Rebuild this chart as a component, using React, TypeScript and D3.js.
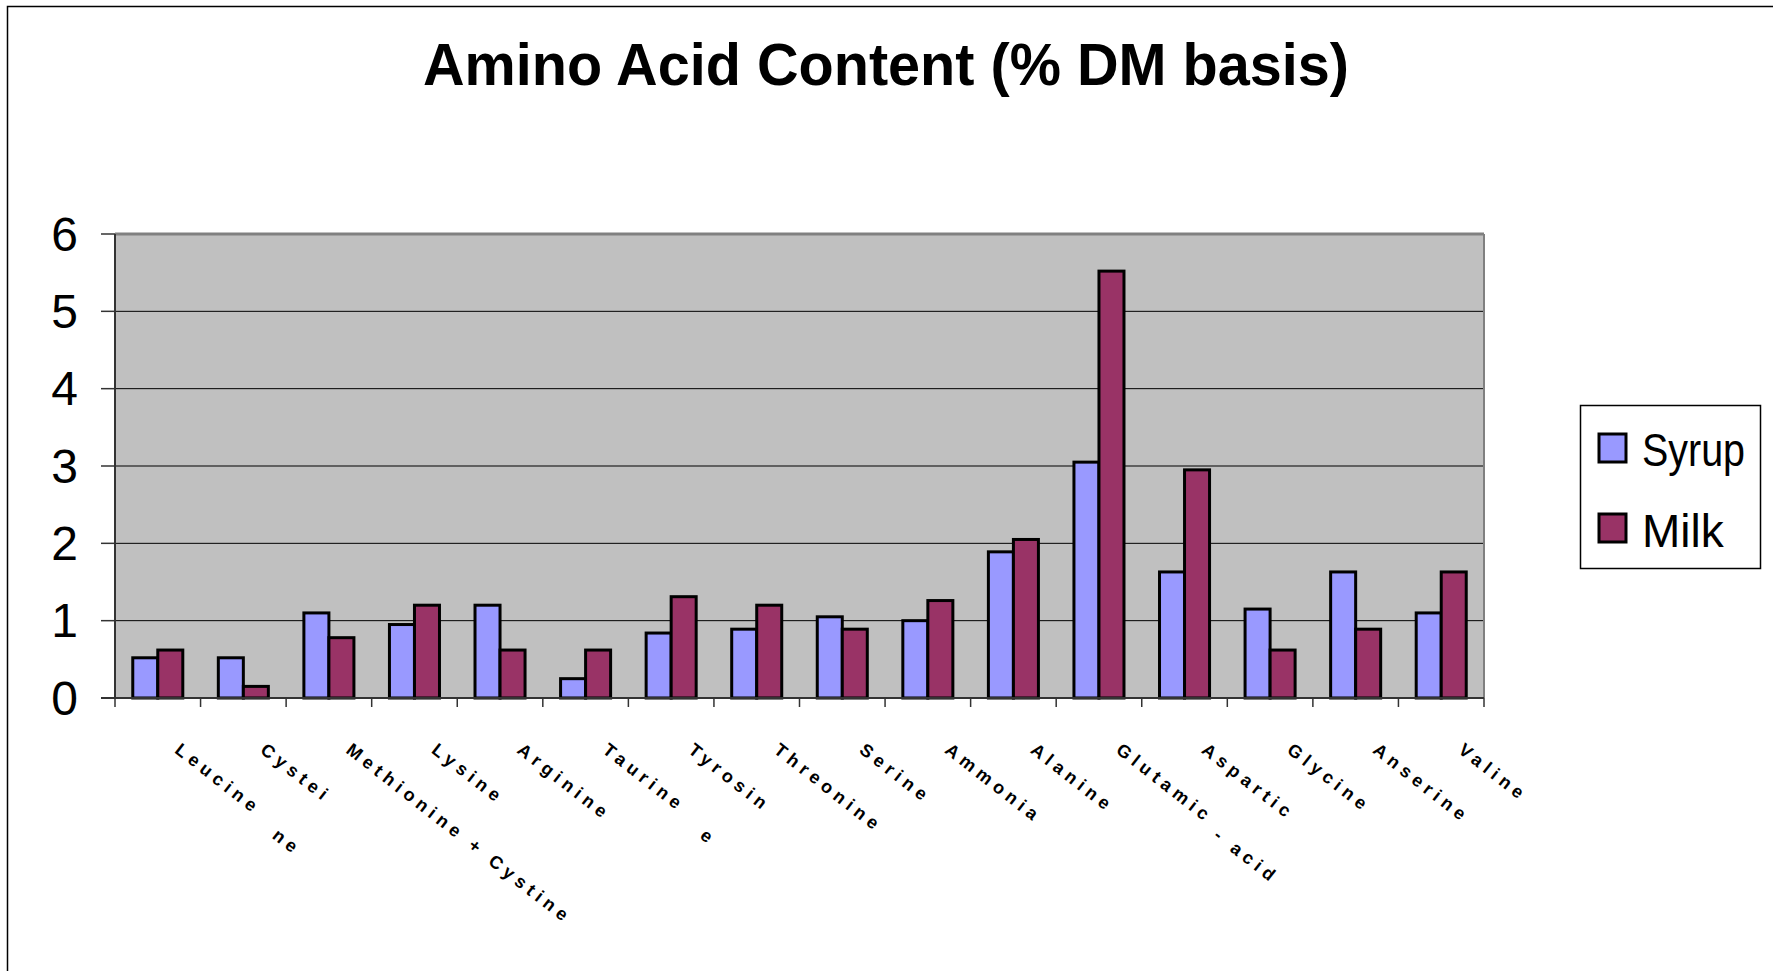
import React from "react";
import * as d3 from "d3";

const title = "Amino Acid Content (% DM basis)";
const categories = [
  "Leucine",
  "Cystei\nne",
  "Methionine + Cystine",
  "Lysine",
  "Arginine",
  "Taurine",
  "Tyrosin\ne",
  "Threonine",
  "Serine",
  "Ammonia",
  "Alanine",
  "Glutamic",
  "Aspartic\n- acid",
  "Glycine",
  "Anserine",
  "Valine",
];
const syrupValues = [0.52, 0.52, 1.1, 0.95, 1.2, 0.25, 0.84, 0.89, 1.05, 1.0, 1.89, 3.05, 1.63, 1.15, 1.63, 1.1];
const milkValues = [0.62, 0.15, 0.78, 1.2, 0.62, 0.62, 1.31, 1.2, 0.89, 1.26, 2.05, 5.52, 2.95, 0.62, 0.89, 1.63];
const seriesNames = ["Syrup", "Milk"];
const seriesColors = ["#9999FF", "#993366"];
const yTicks = [0, 1, 2, 3, 4, 5, 6];

const W = 1773;
const H = 971;
const M = { left: 115, right: 1484, top: 234, bottom: 698 };
const FONT = "'Liberation Sans', Arial, Helvetica, sans-serif";

export default function App() {
  const series = [syrupValues, milkValues];
  const idx = categories.map((_, i) => i);
  const x = d3.scaleBand<number>().domain(idx).range([M.left, M.right]).padding(0);
  const xs = d3
    .scaleBand<number>()
    .domain([0, 1])
    .range([0, x.bandwidth()])
    .paddingInner(0)
    .paddingOuter(0.71);
  const y = d3.scaleLinear().domain([0, 6]).range([M.bottom, M.top]);
  const tickXs = idx.map((i) => x(i) as number).concat([M.right]);

  return (
    <div style={{ position: "absolute", left: 0, top: 0 }}>
      <svg width={W} height={H} style={{ display: "block", fontFamily: FONT }}>
        <rect x={0} y={0} width={W} height={H} fill="#fff" />
        <rect x={7.5} y={6.5} width={W + 20} height={H + 20} fill="none" stroke="#000" strokeWidth={1.5} />
        <text
          x={886}
          y={85}
          textAnchor="middle"
          fontWeight="bold"
          fontSize={60}
          textLength={926}
          lengthAdjust="spacingAndGlyphs"
          fill="#000"
        >
          {title}
        </text>

        {/* plot area */}
        <rect x={M.left} y={M.top} width={M.right - M.left} height={M.bottom - M.top} fill="#C0C0C0" />
        {yTicks
          .filter((t) => t > 0 && t < 6)
          .map((t) => (
            <line key={"g" + t} x1={M.left} x2={M.right} y1={y(t)} y2={y(t)} stroke="#000" strokeWidth={1} />
          ))}
        <line x1={M.left} x2={M.right} y1={M.top} y2={M.top} stroke="#808080" strokeWidth={3} />
        <line x1={M.right} x2={M.right} y1={M.top} y2={M.bottom} stroke="#808080" strokeWidth={2} />

        {/* bars */}
        {idx.map((i) =>
          series.map((vals, s) => (
            <rect
              key={"b" + i + "-" + s}
              x={(x(i) as number) + (xs(s) as number)}
              y={y(vals[i])}
              width={xs.bandwidth()}
              height={y(0) - y(vals[i])}
              fill={seriesColors[s]}
              stroke="#000"
              strokeWidth={3}
            />
          ))
        )}

        {/* axes */}
        <line x1={M.left} x2={M.left} y1={M.top} y2={M.bottom} stroke="#333" strokeWidth={2} />
        <line x1={M.left - 14} x2={M.right} y1={M.bottom} y2={M.bottom} stroke="#333" strokeWidth={2} />
        {yTicks.map((t) => (
          <g key={"yt" + t}>
            <line x1={M.left - 14} x2={M.left} y1={y(t)} y2={y(t)} stroke="#333" strokeWidth={1.5} />
            <text x={78} y={y(t)} textAnchor="end" dominantBaseline="central" fontSize={48} fill="#000">
              {t}
            </text>
          </g>
        ))}
        {tickXs.map((tx, k) => (
          <line key={"xt" + k} x1={tx} x2={tx} y1={M.bottom} y2={M.bottom + 9} stroke="#333" strokeWidth={1.5} />
        ))}

        {/* category labels */}
        {idx.map((i) => {
          const lines = categories[i].split("\n");
          const ax = (x(i) as number) + x.bandwidth() / 2 + 16;
          const ay = 752;
          return (
            <text
              key={"l" + i}
              transform={`translate(${ax},${ay}) rotate(38)`}
              fontSize={18}
              fontWeight="bold"
              letterSpacing={5}
              fill="#000"
            >
              {lines.map((ln, k) => (
                <tspan key={k} x={k === 0 ? 0 : 62} dy={k === 0 ? 0 : 60}>
                  {ln}
                </tspan>
              ))}
            </text>
          );
        })}

        {/* legend */}
        <rect x={1580.5} y={405.5} width={180} height={163} fill="#fff" stroke="#000" strokeWidth={1.5} />
        {seriesNames.map((name, s) => (
          <g key={"lg" + s}>
            <rect
              x={1599}
              y={434 + s * 80}
              width={27}
              height={28}
              fill={seriesColors[s]}
              stroke="#000"
              strokeWidth={3}
            />
            <text
              x={1642}
              y={466 + s * 81}
              fontSize={46}
              fill="#000"
              {...(name === "Syrup" ? { textLength: 103, lengthAdjust: "spacingAndGlyphs" } : {})}
            >
              {name}
            </text>
          </g>
        ))}
      </svg>
    </div>
  );
}
